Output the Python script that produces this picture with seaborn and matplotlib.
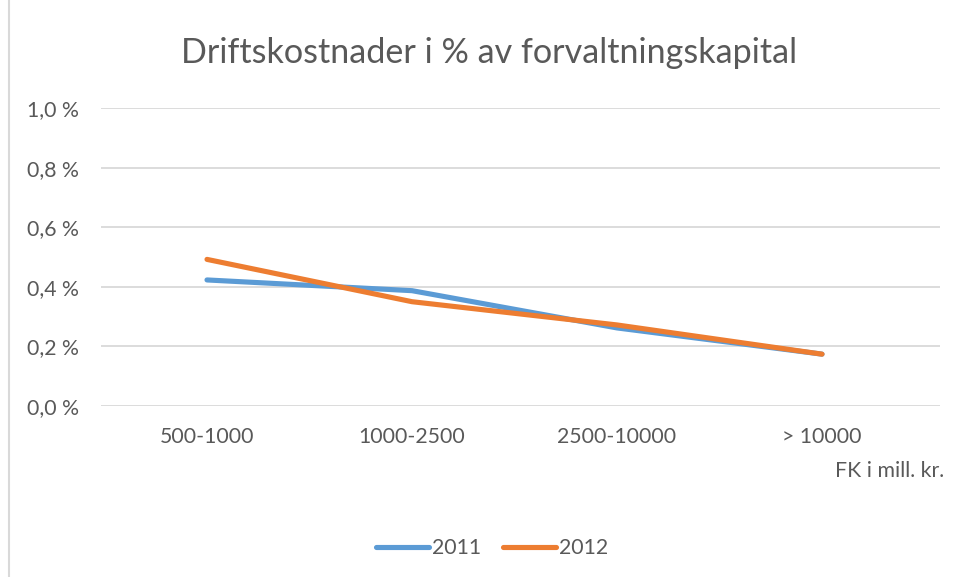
import matplotlib
matplotlib.use("Agg")
import matplotlib.pyplot as plt
import seaborn as sns
import pandas as pd
from matplotlib.lines import Line2D

categories = ["500-1000", "1000-2500", "2500-10000", "> 10000"]
values_2011 = [0.423, 0.387, 0.262, 0.174]
values_2012 = [0.492, 0.350, 0.272, 0.174]
years = ["2011", "2012"]
yticks = [0.0, 0.2, 0.4, 0.6, 0.8, 1.0]
ytick_labels = ["0,0 %", "0,2 %", "0,4 %", "0,6 %", "0,8 %", "1,0 %"]

df = pd.DataFrame({
    "Kategori": categories * 2,
    "Verdi": values_2011 + values_2012,
    "År": [years[0]] * 4 + [years[1]] * 4,
})

sns.set_theme(style="white")
plt.rcParams["font.family"] = ["Lato", "DejaVu Sans"]

text_color = "#595959"
fs = 15.3
lw = 3.7
fig = plt.figure(figsize=(9.56, 5.77), dpi=100)
ax = fig.add_axes([101 / 956, 1 - 406 / 577, 839 / 956, 298 / 577])

palette = {"2011": "#5B9BD5", "2012": "#ED7D31"}
sns.lineplot(data=df, x="Kategori", y="Verdi", hue="År", palette=palette,
             sort=False, linewidth=lw, ax=ax, legend=False,
             solid_capstyle="round", solid_joinstyle="round")

ax.set_xlim(-(207 - 101) / 205, (940 - 207) / 205)
ax.set_ylim(0, 1.0)
ax.set_yticks(yticks)
ax.set_yticklabels(ytick_labels)
ax.yaxis.grid(True, color="#D9D9D9", linewidth=1.3)
ax.xaxis.grid(False)
for s in ax.spines.values():
    s.set_visible(False)
ax.tick_params(axis="y", length=0, pad=16, labelsize=fs, labelcolor=text_color)
ax.tick_params(axis="x", length=0, pad=15, labelsize=fs, labelcolor=text_color)
ax.set_xlabel("")
ax.set_ylabel("")

fig.text(489 / 956, 1 - 53 / 577, "Driftskostnader i % av forvaltningskapital",
         ha="center", va="center", fontsize=24.6, color=text_color)
fig.text(944 / 956, 1 - 471 / 577, "FK i mill. kr.", ha="right", va="center",
         fontsize=fs, color=text_color)

handles = [Line2D([0], [0], color=palette[y], linewidth=lw, solid_capstyle="round") for y in years]
fig.legend(handles, years, loc="center", bbox_to_anchor=(492 / 956, 1 - 548 / 577),
           ncol=2, frameon=False, fontsize=fs, labelcolor=text_color,
           handlelength=2.5, handletextpad=0.15, columnspacing=1.0)

fig.add_artist(Line2D([9 / 956, 9 / 956], [0, 1], transform=fig.transFigure,
                      color="#D9D9D9", linewidth=1.5))

fig.savefig("out.png", dpi=100, facecolor="white")
